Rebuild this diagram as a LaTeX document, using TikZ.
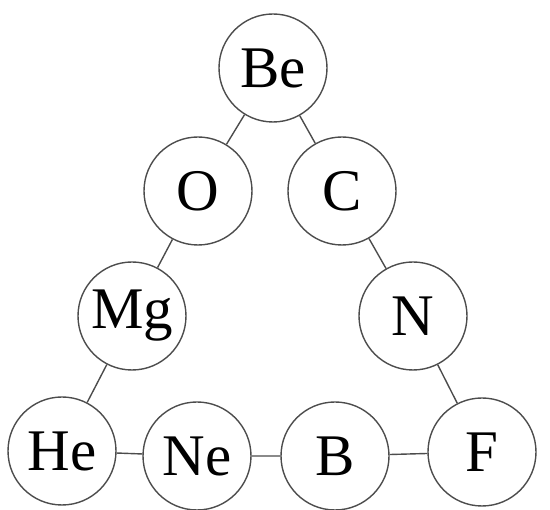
\documentclass[tikz,border=0pt]{standalone}
\usepackage{fontspec}
\setmainfont{Liberation Serif}

\begin{document}
\begin{tikzpicture}[x=1pt, y=-1pt,
    atom/.style={draw=black!70, line width=1.4pt, circle, minimum size=108pt, inner sep=0pt, font=\fontsize{59}{60}\selectfont},
    bond/.style={draw=black!70, line width=1.4pt}]
        \useasboundingbox (0,0) rectangle (550,510);

        % Spitze und linke Seite
        \node[atom] (Be) at (273,68) {Be};
        \node[atom] (O) at (198,191) {O};
        \node[atom] (Mg) at (132,316) {Mg};
        \node[atom] (He) at (62,451) {He};

        % Rechte Seite
        \node[atom] (C) at (342,191) {C};
        \node[atom] (N) at (413,316) {N};
        \node[atom] (F) at (482,452) {F};

        % Untere Reihe
        \node[atom] (Ne) at (197,456) {Ne};
        \node[atom] (B) at (335,456) {B};

        % Verbindungen
        \draw[bond] (Be) -- (O) -- (Mg) -- (He) -- (Ne) -- (B) -- (F) -- (N) -- (C) -- (Be);

    \end{tikzpicture}
\end{document}
